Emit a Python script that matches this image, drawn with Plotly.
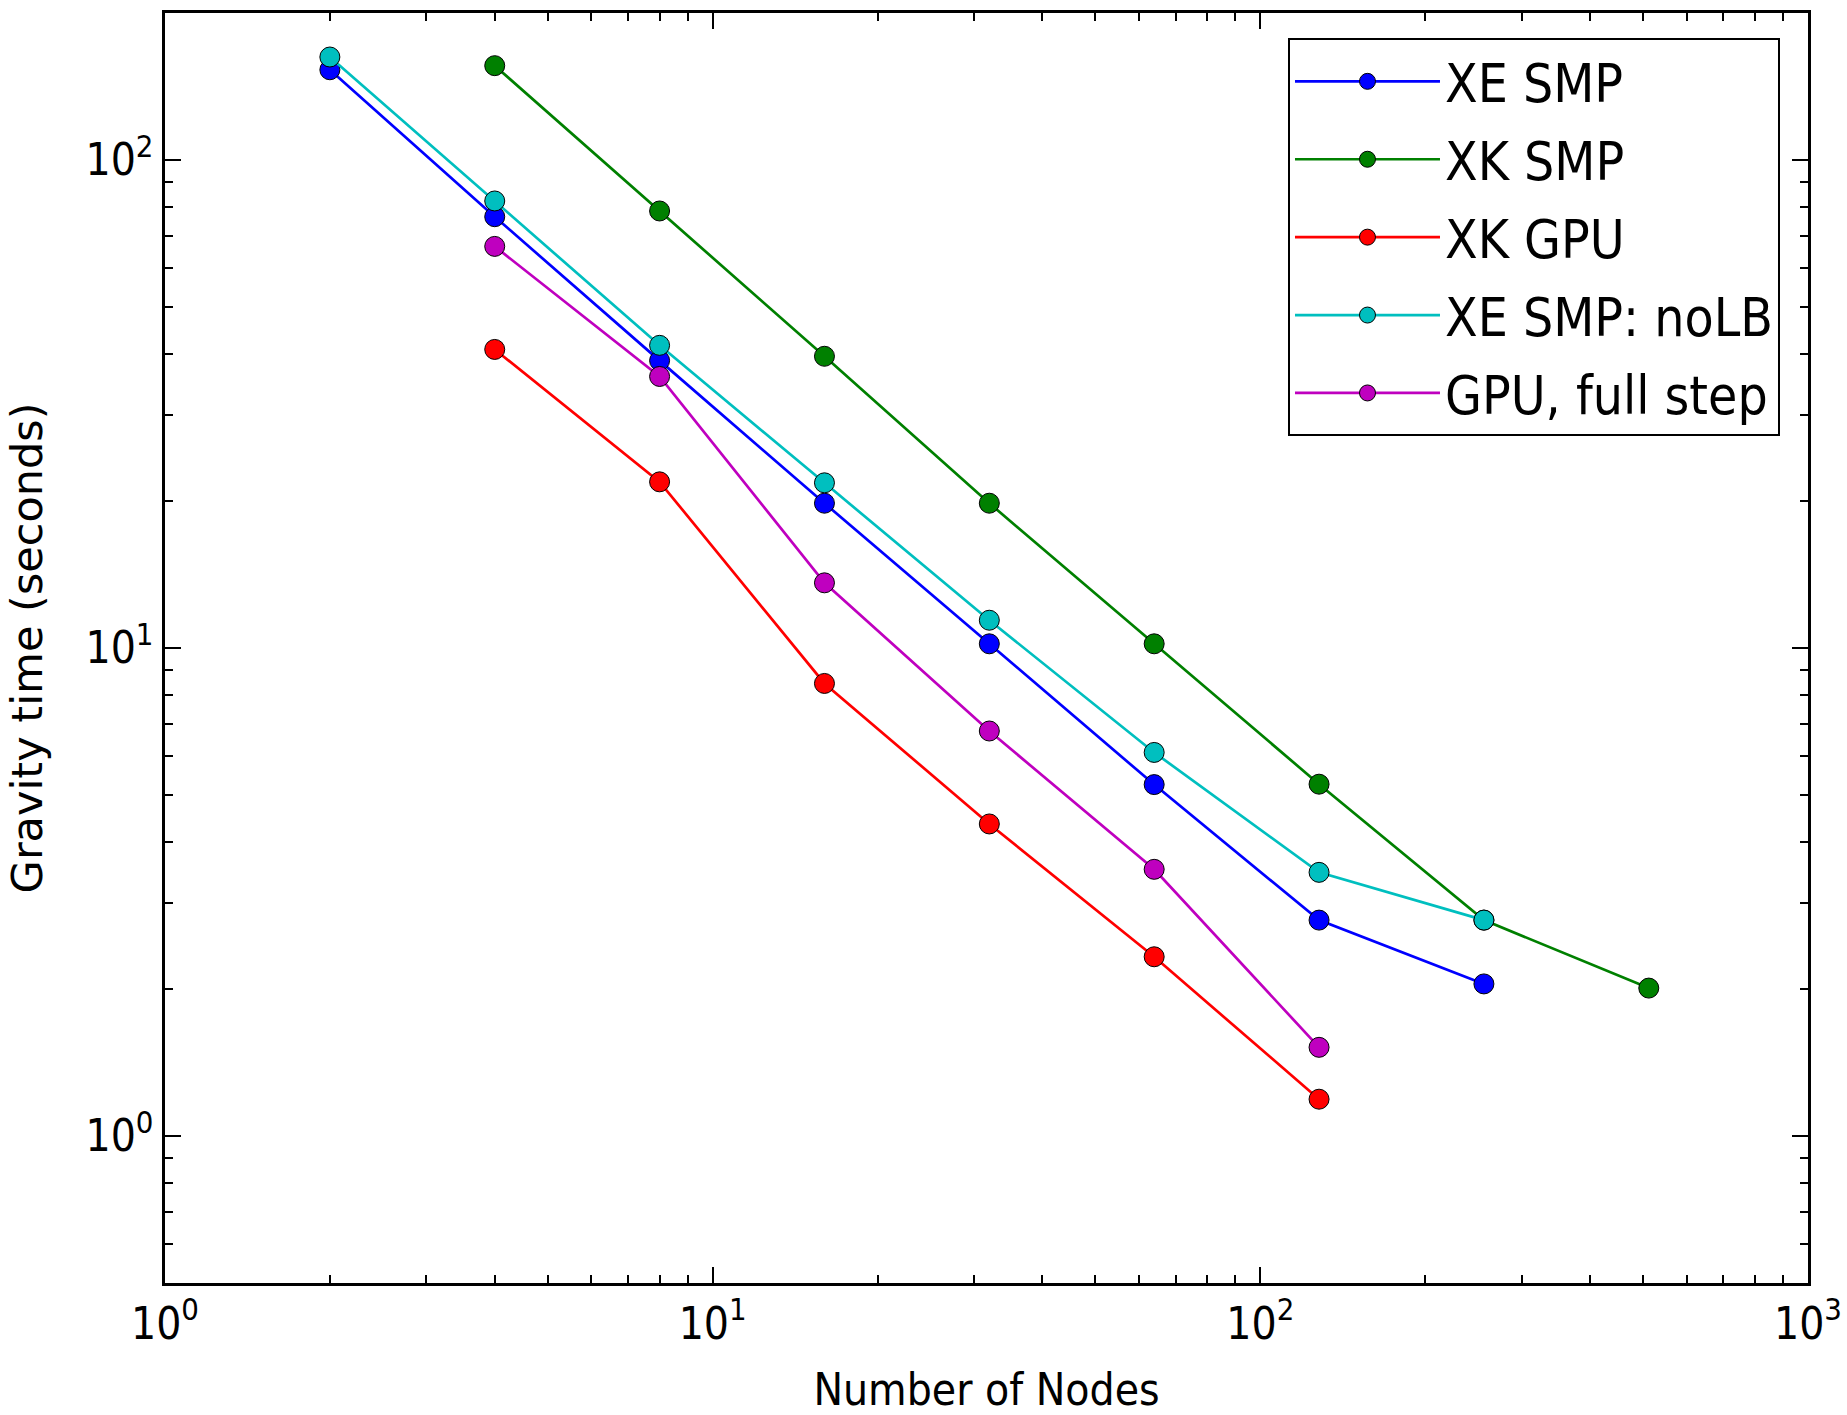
import plotly.graph_objects as go

# Gravity solver timings (seconds) versus node count
xe_smp_nodes = [2, 4, 8, 16, 32, 64, 128, 256]
xe_smp_time = [153, 76.5, 38.8, 19.8, 10.2, 5.25, 2.77, 2.05]

xk_smp_nodes = [4, 8, 16, 32, 64, 128, 256, 512]
xk_smp_time = [156, 78.6, 39.6, 19.8, 10.2, 5.26, 2.77, 2.01]

xk_gpu_nodes = [4, 8, 16, 32, 64, 128]
xk_gpu_time = [40.9, 21.9, 8.46, 4.36, 2.33, 1.19]

xe_nolb_nodes = [2, 4, 8, 16, 32, 64, 128, 256]
xe_nolb_time = [162.5, 82.4, 41.7, 21.8, 11.4, 6.11, 3.47, 2.77]

gpu_full_nodes = [4, 8, 16, 32, 64, 128]
gpu_full_time = [66.5, 36.0, 13.6, 6.76, 3.52, 1.52]

series = [
    ("XE SMP", xe_smp_nodes, xe_smp_time, "#0000ff"),
    ("XK SMP", xk_smp_nodes, xk_smp_time, "#008000"),
    ("XK GPU", xk_gpu_nodes, xk_gpu_time, "#ff0000"),
    ("XE SMP: noLB", xe_nolb_nodes, xe_nolb_time, "#00bfbf"),
    ("GPU, full step", gpu_full_nodes, gpu_full_time, "#bf00bf"),
]

x_major = [1, 10, 100, 1000]
x_major_text = ["10<sup>0</sup>", "10<sup>1</sup>", "10<sup>2</sup>", "10<sup>3</sup>"]
y_major = [1, 10, 100]
y_major_text = ["10<sup>0</sup>", "10<sup>1</sup>", "10<sup>2</sup>"]
x_minor = [m * 10 ** k for k in range(3) for m in range(2, 10)]
y_minor = [m * 10 ** k for k in range(-1, 3) for m in range(2, 10) if 0.5 <= m * 10 ** k <= 200]

FONT = "DejaVu Sans Condensed, DejaVu Sans, sans-serif"

fig = go.Figure()
for i, (name, xs, ys, color) in enumerate(series):
    fig.add_trace(go.Scatter(
        x=xs, y=ys, name=name, mode="lines+markers",
        legendgroup=f"g{i}",
        line=dict(color=color, width=2.7),
        marker=dict(color=color, size=20, line=dict(color="black", width=1)),
    ))

axis_common = dict(
    type="log",
    showgrid=False,
    zeroline=False,
    showline=True,
    linecolor="black",
    linewidth=2.5,
    mirror="allticks",
    ticks="inside",
    ticklen=16,
    tickwidth=1.5,
    tickcolor="black",
    automargin=False,
    tickfont=dict(family=FONT, size=44, color="black"),
)

fig.update_xaxes(
    **axis_common,
    range=[0, 3],
    tickmode="array",
    tickvals=x_major,
    ticktext=x_major_text,
    minor=dict(ticks="inside", ticklen=8, tickwidth=1.5, tickcolor="black", tickvals=x_minor),
    title=dict(text="Number of Nodes", font=dict(family=FONT, size=44, color="black"), standoff=33),
)
fig.update_yaxes(
    **axis_common,
    range=[-0.30103, 2.30103],
    tickmode="array",
    tickvals=y_major,
    ticktext=y_major_text,
    minor=dict(ticks="inside", ticklen=8, tickwidth=1.5, tickcolor="black", tickvals=y_minor),
    title=dict(text="Gravity time (seconds)", font=dict(family="DejaVu Sans", size=43, color="black"), standoff=30),
)

fig.update_layout(
    width=1847,
    height=1415,
    margin=dict(l=165, r=39, t=13, b=132),
    plot_bgcolor="white",
    paper_bgcolor="white",
    showlegend=True,
    legend=dict(
        x=0.6835, y=0.980, xanchor="left", yanchor="top",
        bgcolor="white", bordercolor="black", borderwidth=2,
        font=dict(family=FONT, size=53, color="black"),
        tracegroupgap=6,
        itemwidth=145,
    ),
)

fig.write_html("out.html")
